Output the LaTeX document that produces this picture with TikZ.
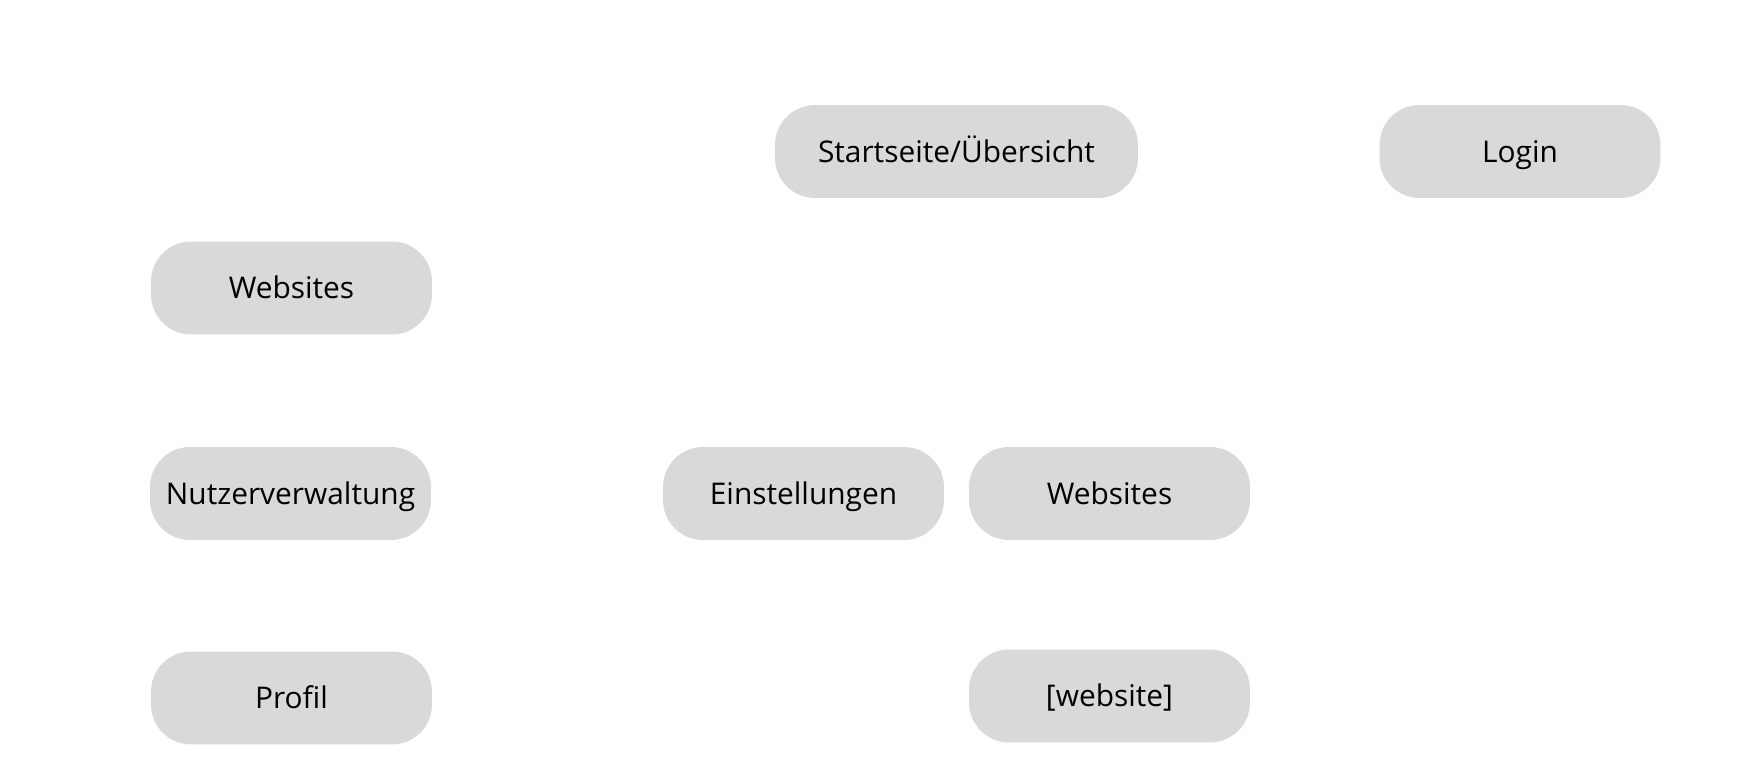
\documentclass[tikz,border=0pt]{standalone}
\usepackage{fontspec}
\setmainfont{Open Sans}
\definecolor{pagegray}{HTML}{D9D9D9}
\usetikzlibrary{positioning}

\begin{document}
\begin{tikzpicture}[x=0.02cm, y=-0.02cm,
    page/.style={fill=pagegray, rounded corners=0.8cm, minimum width=5.62cm,
      minimum height=1.86cm, inner sep=0pt, text height=12pt, text depth=0pt,
      font=\fontsize{17}{20}\selectfont}]
      \useasboundingbox (0,0) rectangle (1742,776);

      % Top row
      \node[page, minimum width=7.26cm] (start) at (956.5,151.5) {Startseite/Übersicht};
      \node[page] (login) at (1520,151.5) {Login};

      % Left column
      \node[page] (websitesL) at (291.5,288) {Websites};
      \node[page] (nutzer) at (290.5,493.5) {Nutzerverwaltung};
      \node[page] (profil) at (291.5,698) {Profil};

      % Middle
      \node[page] (einst) at (803.5,493.5) {Einstellungen};
      \node[page] (websitesM) at (1109.5,493.5) {Websites};
      \node[page] (website) at (1109.5,696) {[website]};
    \end{tikzpicture}
\end{document}
